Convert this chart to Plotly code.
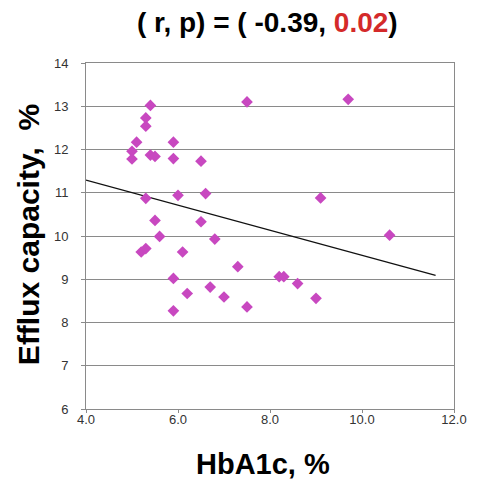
import numpy as np
import plotly.graph_objects as go

hba1c = [5.4, 7.5, 9.7, 5.3, 5.3, 5.1, 5.9, 5.0, 5.0, 5.4, 5.5, 5.9,
         6.5, 5.3, 6.0, 6.6, 9.1, 5.5, 6.5, 5.6, 6.8, 10.6, 5.2, 5.3,
         6.1, 7.3, 5.9, 8.2, 8.3, 8.6, 6.7, 6.2, 7.0, 9.0, 7.5, 5.9]
efflux = [13.02, 13.10, 13.16, 12.73, 12.54, 12.17, 12.17, 11.96, 11.78, 11.87, 11.84, 11.79,
          11.73, 10.87, 10.94, 10.98, 10.88, 10.36, 10.33, 9.99, 9.93, 10.02, 9.63, 9.71,
          9.63, 9.29, 9.02, 9.06, 9.06, 8.90, 8.82, 8.67, 8.59, 8.56, 8.36, 8.27]

trend_range = [4.0, 11.6]
x_ticks = [4.0, 6.0, 8.0, 10.0, 12.0]
x_ticklabels = ["4.0", "6.0", "8.0", "10.0", "12.0"]
y_ticks = [6, 7, 8, 9, 10, 11, 12, 13, 14]

slope, intercept = np.polyfit(hba1c, efflux, 1)
trend_x = np.array(trend_range)
trend_y = intercept + slope * trend_x

fig = go.Figure()
fig.add_trace(go.Scatter(x=trend_x, y=trend_y, mode="lines",
                         line=dict(color="#111111", width=1.3), hoverinfo="skip"))
fig.add_trace(go.Scatter(x=hba1c, y=efflux, mode="markers",
                         marker=dict(symbol="diamond", size=9, color="#c848c0",
                                     line=dict(width=0))))

axis_common = dict(showline=True, linecolor="#8a8a8a", linewidth=1, mirror=True,
                   zeroline=False, ticks="outside", tickcolor="#8a8a8a",
                   tickfont=dict(family="Liberation Sans, Arial", size=13, color="#333333"))

fig.update_xaxes(range=[4.0, 12.0], tickvals=x_ticks, ticktext=x_ticklabels,
                 showgrid=False, ticklen=3, ticklabelstandoff=-5, **axis_common)
fig.update_yaxes(range=[6, 14], tickvals=y_ticks, showgrid=True, gridcolor="#8a8a8a",
                 gridwidth=1, ticklen=4, ticklabelstandoff=10, **axis_common)

# the page body has an 8px default margin, so the figure is sized/offset to compensate
fig.update_layout(
    width=471, height=476,
    margin=dict(l=78, r=20, t=55, b=75),
    paper_bgcolor="white", plot_bgcolor="white",
    showlegend=False,
    font=dict(family="Liberation Sans, Arial", color="#000000"),
    annotations=[
        dict(text="<b>( r, p) = ( -0.39, <span style='color:#d42a2a'>0.02</span>)</b>",
             xref="paper", yref="paper", x=0.493, y=1.117, xanchor="center", yanchor="middle",
             showarrow=False, font=dict(size=28, family="Liberation Sans, Arial")),
        dict(text="<b>Efflux capacity,&nbsp; %</b>", textangle=-90,
             xref="paper", yref="paper", x=-0.158, y=0.505, xanchor="center", yanchor="middle",
             showarrow=False, font=dict(size=30, family="Liberation Sans, Arial")),
        dict(text="<b>HbA1c, %</b>",
             xref="paper", yref="paper", x=0.481, y=-0.159, xanchor="center", yanchor="middle",
             showarrow=False, font=dict(size=29, family="Liberation Sans, Arial")),
    ],
)

fig.write_html("out.html")
